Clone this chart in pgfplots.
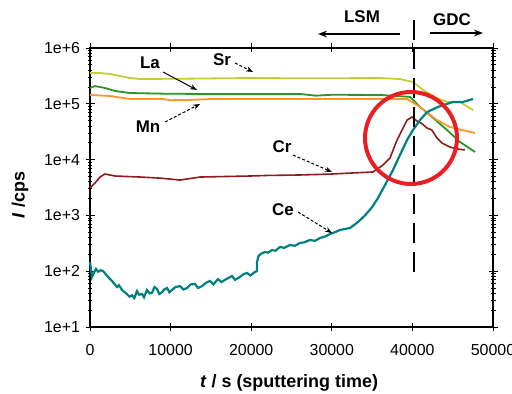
\documentclass[border=0pt]{standalone}
\usepackage{fontspec}
\setmainfont{Liberation Sans}
\usepackage{pgfplots}
\pgfplotsset{compat=1.18}
\usetikzlibrary{arrows.meta}
\definecolor{cSr}{RGB}{196,204,56}
\definecolor{cLa}{RGB}{40,150,40}
\definecolor{cMn}{RGB}{250,150,50}
\definecolor{cCr}{RGB}{140,28,30}
\definecolor{cCe}{RGB}{0,128,128}
\definecolor{cRing}{RGB}{235,30,35}
\begin{document}
\begin{tikzpicture}
\useasboundingbox (-90bp,-67bp) rectangle (422bp,327bp);
\begin{axis}[
  at={(0,0)}, anchor=south west,
  width=403bp, height=279bp, scale only axis,
  xmin=0, xmax=50000, ymode=log, ymin=10, ymax=1e6,
  scaled x ticks=false,
  xtick={0,10000,20000,30000,40000,50000},
  xticklabels={0,10000,20000,30000,40000,50000},
  ytick={1e1,1e2,1e3,1e4,1e5,1e6},
  yticklabels={1e+1,1e+2,1e+3,1e+4,1e+5,1e+6},
  /pgf/number format/assume math mode=true,
  ticklabel style={font=\fontsize{16}{19}\selectfont},
  xticklabel style={yshift=-9bp},
  yticklabel style={xshift=-2bp},
  tick align=center,
  major tick length=9bp, minor tick length=5bp,
  tick style={black, line width=0.9bp},
  axis line style={line width=1.3bp},
  clip=false,
]
\addplot[cSr, line width=1.8bp] coordinates {
(0,356000)(1240,356000)(2480,342000)(3720,315000)(4960,290000)(6200,278000)
(12000,282000)(19850,290000)(28000,286000)(35980,290000)(38460,278000)
(40070,246000)(41320,177000)(43050,127000)(44290,108000)(45900,108000)(47520,77000)};
\addplot[cLa, line width=1.8bp] coordinates {
(0,192000)(620,208000)(1860,192000)(3100,170000)(4960,156000)(9000,152000)
(13650,150000)(20000,150000)(26050,150000)(28000,140000)(30000,145000)
(35980,144000)(39700,133000)(40940,88000)(42560,56000)(44290,33900)
(45900,20700)(47770,13700)};
\addplot[cMn, line width=1.8bp] coordinates {
(0,144000)(2480,138000)(4960,122000)(9000,122000)(10000,116000)(13000,118000)
(15000,122000)(25000,122000)(39330,122000)(40940,88000)(43050,51000)
(44660,38400)(46150,33900)(47770,30000)};
\addplot[cCr, line width=1.6bp] coordinates {
(0,3100)(620,3810)(1240,4870)(1860,5520)(3100,5080)(6200,4870)(8680,4660)
(11170,4300)(13650,4870)(19850,5080)(22000,5200)(26050,5300)(29780,5500)
(35110,6000)(36350,8000)(37220,10700)(38090,22400)(39330,51000)(39950,58000)
(40570,49000)(41100,45000)(41810,36800)(42400,34000)(43050,24400)(43670,19800)
(44660,16800)(45500,15500)(46530,14900)};
\addplot[cCe, line width=2.2bp] coordinates {
(0,146)(250,79)(500,95)(740,110)(1000,98)(1300,104)(1610,101)(1900,90)
(2230,79)(2500,72)(2730,67)(3000,60)(3350,52)(3600,56)(3970,46)(4300,42)
(4590,39)(4900,35)(5210,37)(5500,33)(5830,44)(6100,38)(6450,39)(6700,34)
(7070,46)(7400,40)(7690,41)(8000,52)(8310,48)(8600,39)(8930,42)(9200,47)
(9550,50)(9850,42)(10170,46)(10600,52)(11170,54)(11600,47)(12040,50)
(12500,58)(13030,59)(13400,50)(13900,54)(14400,62)(14890,67)(15300,58)
(15880,72)(16300,64)(16750,70)(17200,76)(17620,82)(18000,70)(18610,79)
(19000,88)(19480,93)(19900,84)(20470,97)(20700,100)(20720,146)(20900,185)
(21200,205)(21710,221)(22100,215)(22580,240)(23000,232)(23570,272)
(24100,262)(24810,295)(25400,285)(26050,320)(26600,330)(27290,362)
(27900,350)(28540,394)(29200,420)(29780,464)(30400,500)(31020,547)
(31600,570)(32260,594)(33250,762)(34120,1000)(34990,1400)(35730,2050)
(36600,3500)(37590,6500)(38460,12100)(39330,22400)(40070,33900)
(40940,51000)(41810,71000)(43180,88000)(45040,108000)(46280,108000)(47520,122000)};
\end{axis}
% annotations
\draw[line width=1.6bp, dash pattern=on 20bp off 9bp] (324bp,307bp) -- (324bp,50bp);
\draw[cRing, line width=4bp] (321bp,189bp) circle (46bp);
\begin{scope}[font=\fontsize{17}{20}\selectfont\bfseries]
\node at (60bp,264bp) {La};
\node at (132bp,267bp) {Sr};
\node at (58bp,200bp) {Mn};
\node at (192bp,180bp) {Cr};
\node at (193bp,117bp) {Ce};
\node at (272bp,310bp) {LSM};
\node at (362bp,307bp) {GDC};
\end{scope}
\draw[line width=1bp, -{Stealth[length=7bp]}] (73bp,255bp) -- (107bp,237bp);
\draw[line width=1bp, densely dashed, -{Stealth[length=7bp]}] (145bp,264bp) -- (163bp,255bp);
\draw[line width=1bp, densely dashed, -{Stealth[length=7bp]}] (75bp,205bp) -- (110bp,223bp);
\draw[line width=1bp, densely dashed, -{Stealth[length=7bp]}] (203bp,172bp) -- (242bp,155bp);
\draw[line width=1bp, densely dashed, -{Stealth[length=7bp]}] (208bp,115bp) -- (242bp,94bp);
\draw[line width=1.2bp, -{Stealth[length=9bp,open]}] (310bp,293bp) -- (228bp,293bp);
\draw[line width=1.2bp, -{Stealth[length=9bp]}] (340bp,294bp) -- (393bp,294bp);
\node[font=\fontsize{18}{21}\selectfont\bfseries] at (199bp,-56bp) {\textit{t} / s (sputtering time)};
\node[font=\fontsize{18}{21}\selectfont\bfseries, rotate=90] at (-70bp,132bp) {\textit{I} /cps};
\end{tikzpicture}
\end{document}
